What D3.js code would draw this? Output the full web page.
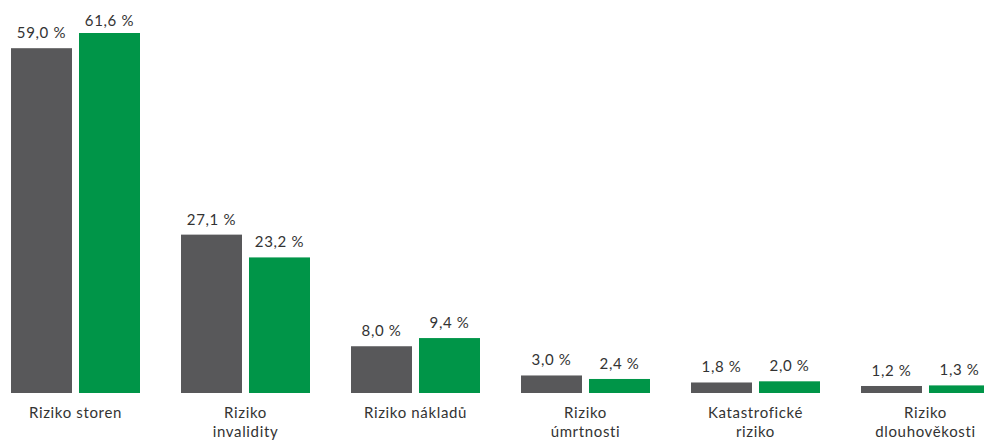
<!DOCTYPE html>
<html lang="cs">
<head>
  <meta charset="UTF-8">
  <title>Rizika</title>
  <script src="https://d3js.org/d3.v7.min.js"></script>
  <style>
    body { margin: 0; padding: 0; background: #fff; }
    svg { display: block; }
    text { font-family: "Lato", "Open Sans", sans-serif; font-size: 15px; letter-spacing: 0.65px; fill: #333; }
  </style>
</head>
<body>
  <div id="chart"></div>
  <script>
    // Data
    const categories = ["Riziko storen", "Riziko\ninvalidity", "Riziko nákladů", "Riziko\númrtnosti", "Katastrofické\nriziko", "Riziko\ndlouhověkosti"];
    const series = ["a", "b"];
    const valuesA = [59.0, 27.1, 8.0, 3.0, 1.8, 1.2];
    const valuesB = [61.6, 23.2, 9.4, 2.4, 2.0, 1.3];
    const colors = ["#58585a", "#009548"];

    const width = 984, height = 440;
    const baseline = 393;

    const svg = d3.create("svg")
      .attr("width", width)
      .attr("height", height);

    const x = d3.scaleBand()
      .domain(categories)
      .range([-9.5, 1010.5])
      .paddingInner(41 / 170)
      .paddingOuter(41 / 340);

    const xs = d3.scaleBand()
      .domain(series)
      .range([0, x.bandwidth()])
      .paddingInner(7 / 68);

    const y = d3.scaleLinear()
      .domain([0, 61.6])
      .range([baseline, 33]);

    const fmt = v => d3.format(".1f")(v).replace(".", ",") + " %";

    const groups = svg.append("g")
      .selectAll("g")
      .data(categories.map((c, i) => ({ cat: c, vals: [valuesA[i], valuesB[i]] })))
      .join("g")
      .attr("transform", d => `translate(${x(d.cat)},0)`);

    groups.selectAll("rect")
      .data(d => d.vals.map((v, j) => ({ s: series[j], v, j })))
      .join("rect")
      .attr("x", d => xs(d.s))
      .attr("y", d => y(d.v))
      .attr("width", xs.bandwidth())
      .attr("height", d => baseline - y(d.v))
      .attr("fill", d => colors[d.j]);

    groups.selectAll("text.val")
      .data(d => d.vals.map((v, j) => ({ s: series[j], v, j })))
      .join("text")
      .attr("class", "val")
      .attr("x", d => xs(d.s) + xs.bandwidth() / 2)
      .attr("y", d => Math.max(26, y(d.v) - 10))
      .attr("text-anchor", "middle")
      .text(d => fmt(d.v));

    groups.append("text")
      .attr("class", "cat")
      .attr("x", x.bandwidth() / 2)
      .attr("y", baseline + 25)
      .attr("text-anchor", "middle")
      .selectAll("tspan")
      .data(d => d.cat.split("\n"))
      .join("tspan")
      .attr("x", x.bandwidth() / 2)
      .attr("dy", (d, i) => i === 0 ? 0 : 19)
      .text(d => d);

    document.getElementById("chart").appendChild(svg.node());
  </script>
</body>
</html>
